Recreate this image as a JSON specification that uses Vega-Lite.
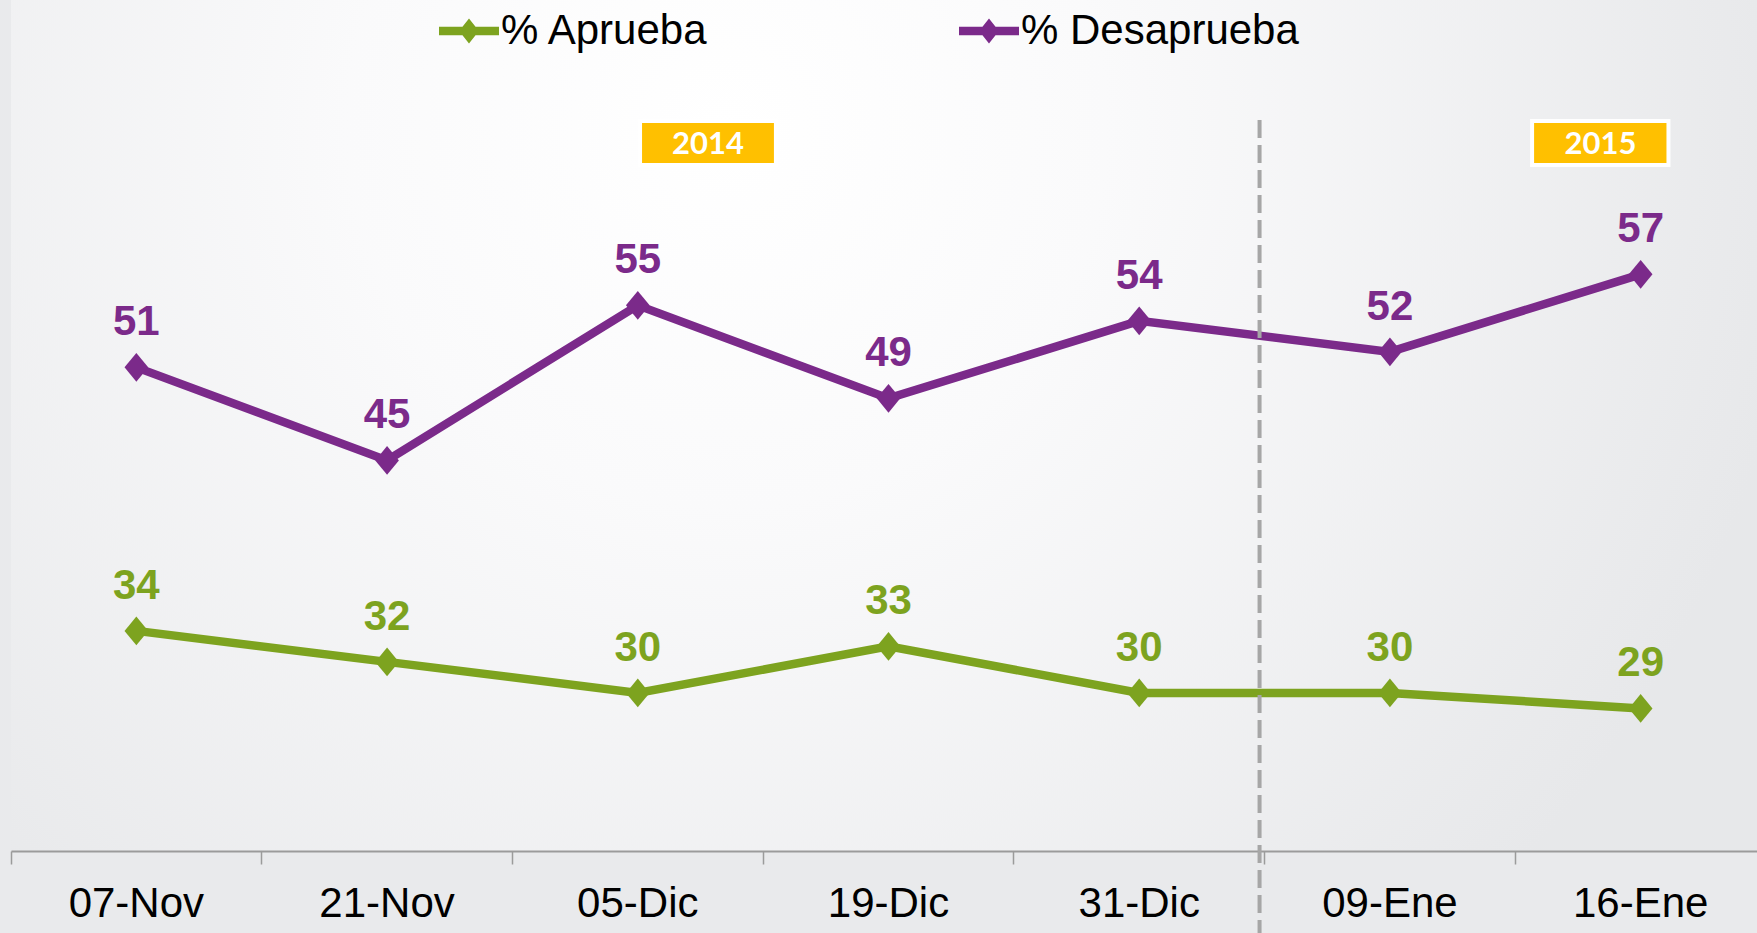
{
  "$schema": "https://vega.github.io/schema/vega-lite/v6.json",
  "width": 1746,
  "height": 851,
  "autosize": {"type": "none"},
  "padding": {"left": 11, "top": 0, "right": 0, "bottom": 82},
  "background": "#e9eaec",
  "config": {
    "font": "Liberation Sans",
    "view": {
      "stroke": null,
      "fill": {
        "gradient": "radial",
        "x1": 0.41, "y1": 0.33, "r1": 0,
        "x2": 0.41, "y2": 0.33, "r2": 0.62,
        "stops": [
          {"offset": 0, "color": "#ffffff"},
          {"offset": 0.35, "color": "#fafafb"},
          {"offset": 1, "color": "#e7e8ea"}
        ]
      }
    }
  },
  "datasets": {
    "encuesta": [
      {"fecha": "07-Nov", "serie": "% Aprueba", "valor": 34},
      {"fecha": "21-Nov", "serie": "% Aprueba", "valor": 32},
      {"fecha": "05-Dic", "serie": "% Aprueba", "valor": 30},
      {"fecha": "19-Dic", "serie": "% Aprueba", "valor": 33},
      {"fecha": "31-Dic", "serie": "% Aprueba", "valor": 30},
      {"fecha": "09-Ene", "serie": "% Aprueba", "valor": 30},
      {"fecha": "16-Ene", "serie": "% Aprueba", "valor": 29},
      {"fecha": "07-Nov", "serie": "% Desaprueba", "valor": 51},
      {"fecha": "21-Nov", "serie": "% Desaprueba", "valor": 45},
      {"fecha": "05-Dic", "serie": "% Desaprueba", "valor": 55},
      {"fecha": "19-Dic", "serie": "% Desaprueba", "valor": 49},
      {"fecha": "31-Dic", "serie": "% Desaprueba", "valor": 54},
      {"fecha": "09-Ene", "serie": "% Desaprueba", "valor": 52},
      {"fecha": "16-Ene", "serie": "% Desaprueba", "valor": 57}
    ],
    "anotacion": [{"nota": "año"}]
  },
  "layer": [
    {
      "data": {"name": "encuesta"},
      "encoding": {
        "x": {
          "field": "fecha",
          "type": "ordinal",
          "sort": null,
          "scale": {"type": "band", "paddingInner": 0, "paddingOuter": 0, "range": [0, 1755]},
          "axis": {
            "title": null,
            "bandPosition": 0,
            "labelAngle": 0,
            "domainColor": "#9b9b9b",
            "domainWidth": 2,
            "tickColor": "#9b9b9b",
            "tickWidth": 1.5,
            "tickSize": 13,
            "labelFontSize": 42,
            "labelFont": "Liberation Sans",
            "labelColor": "#000000",
            "labelPadding": 19,
            "grid": false
          }
        },
        "y": {
          "field": "valor",
          "type": "quantitative",
          "scale": {"domain": [19.8, 74.7], "nice": false, "zero": false},
          "axis": null
        },
        "color": {
          "field": "serie",
          "type": "nominal",
          "scale": {"domain": ["% Aprueba", "% Desaprueba"], "range": ["#7da31f", "#7b2a8a"]},
          "legend": {
            "title": null,
            "orient": "none",
            "legendX": 428,
            "legendY": 1,
            "direction": "horizontal",
            "padding": 0,
            "labelFontSize": 42,
            "labelFont": "Liberation Sans",
            "labelColor": "#000000",
            "labelOffset": 2,
            "labelLimit": 0,
            "columnPadding": 250,
            "symbolType": "M-1,-0.14L1,-0.14L1,0.14L-1,0.14Z M0,-0.42L0.33,0L0,0.42L-0.33,0Z",
            "symbolSize": 3600,
            "symbolStrokeWidth": 0,
            "encode": {
              "symbols": {
                "update": {
                  "fill": {"scale": "color", "field": "value"},
                  "strokeWidth": {"value": 0},
                  "opacity": {"value": 1}
                }
              }
            }
          }
        }
      },
      "layer": [
        {"mark": {"type": "line", "strokeWidth": 8.5}},
        {"mark": {"type": "point", "shape": "M0,-1.22L1,0L0,1.22L-1,0Z", "filled": true, "size": 560, "opacity": 1}},
        {
          "mark": {"type": "text", "fontWeight": "bold", "fontSize": 42, "font": "Liberation Sans", "dy": -32, "baseline": "alphabetic"},
          "encoding": {"text": {"field": "valor", "type": "quantitative"}}
        }
      ]
    },
    {
      "data": {"name": "anotacion"},
      "encoding": {
        "x": {"datum": 0, "type": "quantitative", "scale": {"domain": [0, 7], "range": [0, 1755]}, "axis": null}
      },
      "layer": [
        {
          "mark": {"type": "rule", "strokeDash": [18, 7], "strokeWidth": 4, "color": "#a6a6a6"},
          "encoding": {
            "x": {"datum": 4.98, "type": "quantitative"},
            "y": {"datum": 66.96, "type": "quantitative"},
            "y2": {"datum": 14.5}
          }
        },
        {
          "mark": {"type": "rect", "color": "#ffc000", "stroke": "#ffffff", "strokeWidth": 4},
          "encoding": {
            "x": {"datum": 2.509, "type": "quantitative"},
            "x2": {"datum": 3.051},
            "y": {"datum": 66.89, "type": "quantitative"},
            "y2": {"datum": 64.05}
          }
        },
        {
          "mark": {"type": "text", "text": "2014", "font": "Lato", "fontWeight": "bold", "fontSize": 31, "color": "#ffffff", "baseline": "middle", "dy": 2},
          "encoding": {
            "x": {"datum": 2.78, "type": "quantitative"},
            "y": {"datum": 65.47, "type": "quantitative"}
          }
        },
        {
          "mark": {"type": "rect", "color": "#ffc000", "stroke": "#ffffff", "strokeWidth": 4},
          "encoding": {
            "x": {"datum": 6.067, "type": "quantitative"},
            "x2": {"datum": 6.611},
            "y": {"datum": 66.89, "type": "quantitative"},
            "y2": {"datum": 64.05}
          }
        },
        {
          "mark": {"type": "text", "text": "2015", "font": "Lato", "fontWeight": "bold", "fontSize": 31, "color": "#ffffff", "baseline": "middle", "dy": 2},
          "encoding": {
            "x": {"datum": 6.34, "type": "quantitative"},
            "y": {"datum": 65.47, "type": "quantitative"}
          }
        }
      ]
    }
  ],
  "resolve": {"scale": {"x": "independent"}}
}
